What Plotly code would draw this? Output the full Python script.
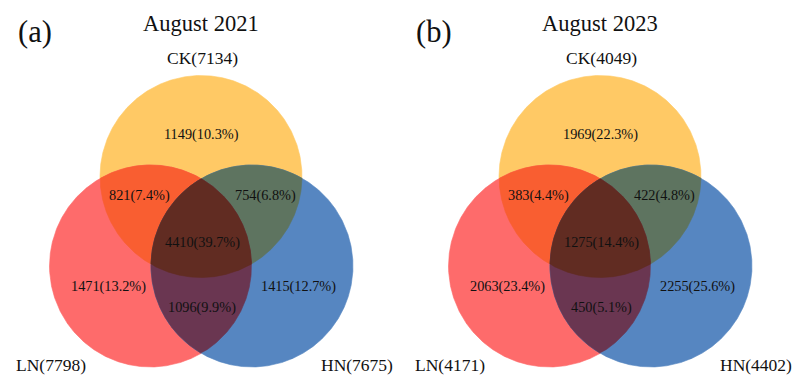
import numpy as np
import plotly.graph_objects as go

# ---- data -------------------------------------------------------------
sets = ["CK", "LN", "HN"]
panel_letters = ["(a)", "(b)"]
panel_titles = ["August 2021", "August 2023"]
# exclusive region counts and shares, keyed by set membership
regions = ["CK", "LN", "HN", "CK&LN", "CK&HN", "LN&HN", "CK&LN&HN"]
counts_2021 = [1149, 1471, 1415, 821, 754, 1096, 4410]
share_2021 = [10.3, 13.2, 12.7, 7.4, 6.8, 9.9, 39.7]
counts_2023 = [1969, 2063, 2255, 383, 422, 450, 1275]
share_2023 = [22.3, 23.4, 25.6, 4.4, 4.8, 5.1, 14.4]
set_totals_2021 = [7134, 7798, 7675]
set_totals_2023 = [4049, 4171, 4402]
panel_counts = [counts_2021, counts_2023]
panel_shares = [share_2021, share_2023]
panel_totals = [set_totals_2021, set_totals_2023]

# ---- styling ----------------------------------------------------------
W, H = 793, 376
FONT = "Liberation Serif, Times New Roman, serif"
TXT = "#111111"
region_colors = {
    "CK": "#FFC965",
    "LN": "#FE6B6B",
    "HN": "#5686C1",
    "CK&LN": "#F95E31",
    "CK&HN": "#5E7460",
    "LN&HN": "#6A3651",
    "CK&LN&HN": "#612C22",
}
panel_cx = [201, 600]
R = 101
# circle centres relative to panel centre x
circle_off = {"CK": (0.0, 176.5), "LN": (-50.5, 266.0), "HN": (51.0, 266.0)}
# label anchors relative to panel centre x
label_off = {
    "CK": (0, 134), "LN": (-93, 286), "HN": (97, 286),
    "CK&LN": (-62, 195), "CK&HN": (64, 195), "LN&HN": (1, 307),
    "CK&LN&HN": (1, 242),
}
set_label_off = {"CK": (1, 58), "LN": (-150, 365), "HN": (156, 365)}

fig = go.Figure()


def region_polygon(centres, members):
    """Boundary of the intersection of the member discs (convex)."""
    t = np.linspace(0, 2 * np.pi, 1440, endpoint=False)
    pts = []
    for m in members:
        cx, cy = centres[m]
        px = cx + R * np.cos(t)
        py = cy + R * np.sin(t)
        keep = np.ones_like(px, dtype=bool)
        for o in members:
            if o == m:
                continue
            ox, oy = centres[o]
            keep &= (px - ox) ** 2 + (py - oy) ** 2 <= R ** 2 + 1e-6
        pts.append(np.column_stack([px[keep], py[keep]]))
    pts = np.vstack(pts)
    c = pts.mean(axis=0)
    order = np.argsort(np.arctan2(pts[:, 1] - c[1], pts[:, 0] - c[0]))
    pts = pts[order]
    return np.append(pts[:, 0], pts[0, 0]), np.append(pts[:, 1], pts[0, 1])


annotations = []
for p, cx0 in enumerate(panel_cx):
    centres = {s: (cx0 + dx, dy) for s, (dx, dy) in circle_off.items()}

    # paint discs, then pairwise lenses, then the triple region on top
    for key in sorted(regions, key=lambda k: k.count("&")):
        members = key.split("&")
        xs, ys = region_polygon(centres, members)
        fig.add_trace(go.Scatter(
            x=xs, y=ys, mode="lines", fill="toself",
            fillcolor=region_colors[key], line=dict(width=0.6, color=region_colors[key]),
            hoverinfo="skip", showlegend=False,
        ))

    for key, n, pct in zip(regions, panel_counts[p], panel_shares[p]):
        dx, dy = label_off[key]
        annotations.append(dict(
            x=cx0 + dx, y=dy, text=f"{n}({pct:.1f}%)", borderpad=0,
            showarrow=False, font=dict(family=FONT, size=14.3, color=TXT),
        ))

    for s, size in zip(sets, panel_totals[p]):
        dx, dy = set_label_off[s]
        annotations.append(dict(
            x=cx0 + dx, y=dy, text=f"{s}({size})", showarrow=False, borderpad=0,
            font=dict(family=FONT, size=17.5, color=TXT),
        ))

    annotations.append(dict(
        x=cx0, y=23, text=panel_titles[p], showarrow=False, borderpad=0,
        font=dict(family=FONT, size=22.5, color=TXT),
    ))
    annotations.append(dict(
        x=cx0 - 166, y=32, text=panel_letters[p], showarrow=False, borderpad=0,
        font=dict(family=FONT, size=30.5, color=TXT),
    ))

fig.update_layout(
    width=W, height=H, margin=dict(l=0, r=0, t=0, b=0),
    paper_bgcolor="white", plot_bgcolor="white",
    xaxis=dict(range=[0, W], visible=False, fixedrange=True),
    yaxis=dict(range=[H, 0], visible=False, fixedrange=True),
    annotations=annotations,
)

fig.write_html("out.html")
